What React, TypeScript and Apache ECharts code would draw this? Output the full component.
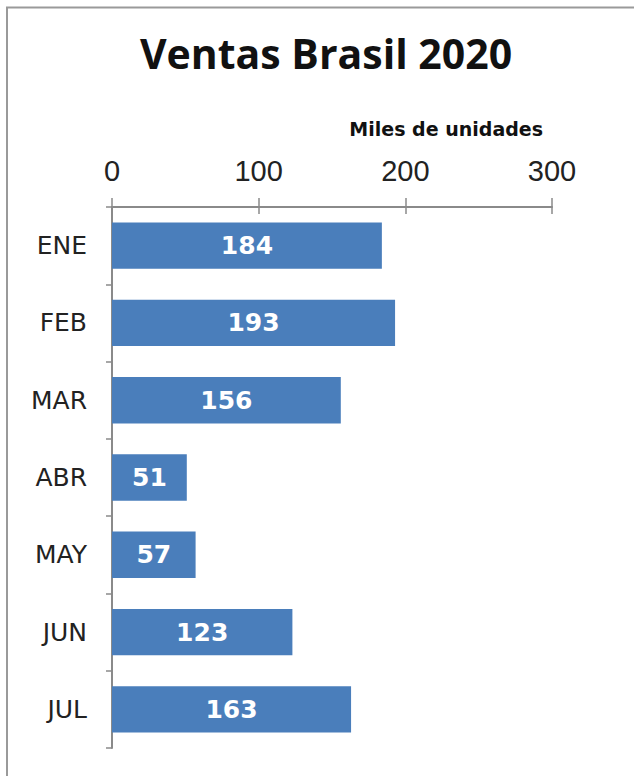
import React, { useEffect, useRef } from "react";
import * as echarts from "echarts";

const categories = ["ENE", "FEB", "MAR", "ABR", "MAY", "JUN", "JUL"];
const values = [184, 193, 156, 51, 57, 123, 163];
const axisMin = 0;
const axisMax = 300;
const axisInterval = 100;
const titleText = "Ventas Brasil 2020";
const axisTitle = "Miles de unidades";

export default function App() {
  const ref = useRef<HTMLDivElement>(null);
  useEffect(() => {
    if (!ref.current) return;
    const chart = echarts.init(ref.current, undefined, { renderer: "svg" });
    const axisColor = "#8a8a8a";
    chart.setOption({
      animation: false,
      backgroundColor: "#ffffff",
      title: {
        text: titleText,
        left: 321,
        textAlign: "center",
        top: 27,
        textStyle: {
          fontFamily: "Open Sans",
          fontWeight: "bold",
          fontSize: 41,
          color: "#111",
        },
      },
      graphic: [
        {
          type: "rect",
          shape: { x: 7, y: 7.5, width: 700, height: 900 },
          style: { fill: "none", stroke: "#9a9a9a", lineWidth: 2 },
          silent: true,
        },
        {
          type: "text",
          right: 634 - 543,
          top: 119,
          style: {
            text: axisTitle,
            fontFamily: "DejaVu Sans",
            fontWeight: "bold",
            fontSize: 19,
            fill: "#111",
          },
        },
      ],
      grid: { left: 112, top: 207, width: 440, height: 541, containLabel: false },
      xAxis: [
        {
          type: "value",
          position: "top",
          min: axisMin,
          max: axisMax,
          interval: axisInterval,
          axisLine: { show: true, lineStyle: { color: axisColor, width: 2 } },
          axisTick: { show: true, length: 9, lineStyle: { color: axisColor, width: 1.5 } },
          axisLabel: {
            margin: 22,
            fontFamily: "Liberation Sans",
            fontSize: 29,
            color: "#222",
          },
          splitLine: { show: false },
        },
        {
          type: "value",
          position: "top",
          min: axisMin,
          max: axisMax,
          interval: axisInterval,
          axisLine: { show: false },
          axisTick: { show: true, inside: true, length: 7, lineStyle: { color: axisColor, width: 1.5 } },
          axisLabel: { show: false },
          splitLine: { show: false },
        },
      ],
      yAxis: {
        type: "category",
        inverse: true,
        data: categories,
        axisLine: { show: true, lineStyle: { color: axisColor, width: 2 } },
        axisTick: { show: true, length: 6, lineStyle: { color: axisColor, width: 1.5 } },
        axisLabel: {
          margin: 25,
          fontFamily: "DejaVu Sans",
          fontSize: 25,
          color: "#222",
        },
      },
      series: [
        {
          type: "bar",
          xAxisIndex: 0,
          data: values,
          barCategoryGap: "40%",
          itemStyle: { color: "#4a7ebb" },
          label: {
            show: true,
            position: "inside",
            color: "#ffffff",
            fontFamily: "DejaVu Sans",
            fontWeight: "bold",
            fontSize: 25,
          },
        },
      ],
    });
    return () => chart.dispose();
  }, []);
  return (
    <div
      ref={ref}
      style={{ position: "absolute", left: 0, top: 0, width: 634, height: 776 }}
    />
  );
}
